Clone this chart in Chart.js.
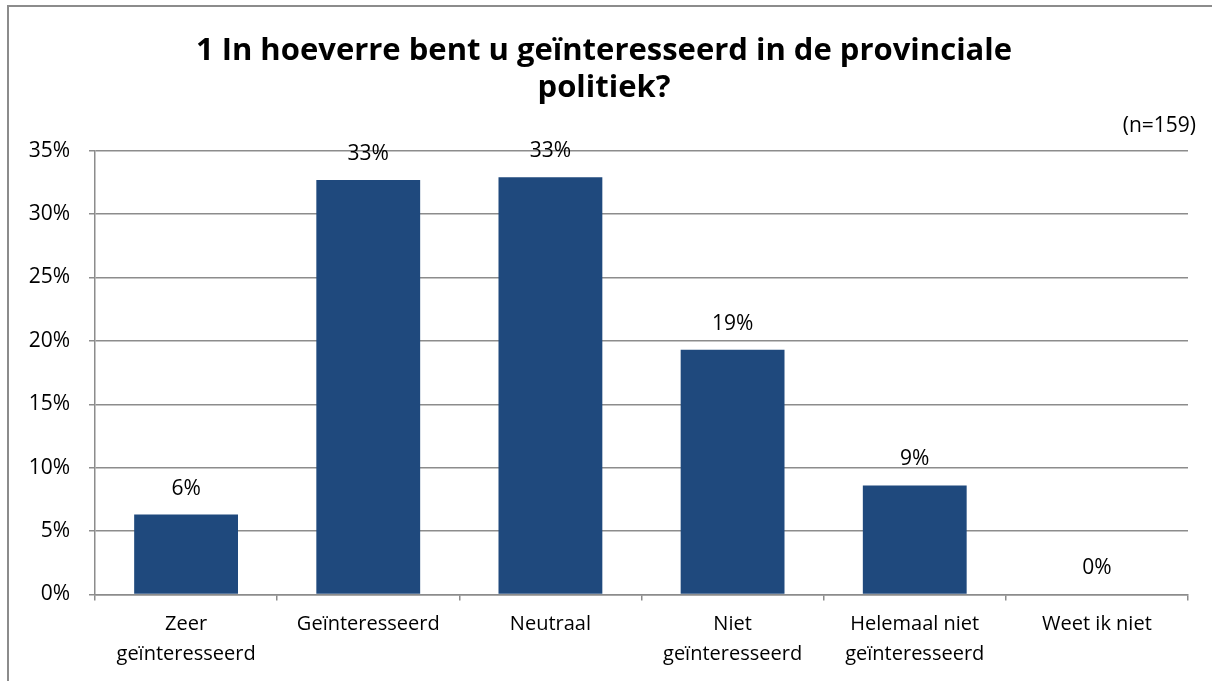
<!DOCTYPE html>
<html>
<head>
<meta charset="utf-8">
<script src="https://cdn.jsdelivr.net/npm/chart.js@4"></script>
<style>
  html, body { margin: 0; padding: 0; background: #fff; }
  #wrap { position: relative; width: 1212px; height: 681px; }
</style>
</head>
<body>
<div id="wrap"><canvas id="chart" width="1212" height="681"></canvas></div>
<script>
// Interesse in provinciale politiek — Chart.js bar chart
const categories = [
    ['Zeer', 'geïnteresseerd'],
    'Geïnteresseerd',
    'Neutraal',
    ['Niet', 'geïnteresseerd'],
    ['Helemaal niet', 'geïnteresseerd'],
    'Weet ik niet'
];

// share of respondents in %
const shares = [6.3, 32.7, 32.9, 19.3, 8.6, 0];

const yTicks = [0, 5, 10, 15, 20, 25, 30, 35];
const sampleNote = '(n=159)';

const FONT = '"Open Sans", Lato, sans-serif';

// grey frame round the chart + sample size note
const framePlugin = {
    id: 'frame',
    beforeDraw: function (chart) {
        const c = chart.ctx;
        c.save();
        c.strokeStyle = '#8c8c8c';
        c.lineWidth = 2;
        c.strokeRect(8, 6, 1400, 1000);
        c.restore();
    },
    afterDraw: function (chart) {
        const c = chart.ctx;
        c.save();
        c.font = '21px ' + FONT;
        c.fillStyle = '#000';
        c.textAlign = 'right';
        c.textBaseline = 'middle';
        c.fillText(sampleNote, 1196, 126);
        c.restore();
    }
};

// value labels above the bars
const valueLabels = {
    id: 'valueLabels',
    afterDatasetsDraw: function (chart) {
        const c = chart.ctx;
        const meta = chart.getDatasetMeta(0);
        c.save();
        c.font = '21px ' + FONT;
        c.fillStyle = '#000';
        c.textAlign = 'center';
        c.textBaseline = 'middle';
        meta.data.forEach(function (bar, i) {
            c.fillText(Math.round(shares[i]) + '%', bar.x, bar.y - 26);
        });
        c.restore();
    }
};

new Chart(document.getElementById('chart').getContext('2d'), {
    type: 'bar',
    data: {
        labels: categories,
        datasets: [{
            data: shares,
            backgroundColor: '#1f497d',
            borderWidth: 0,
            categoryPercentage: 1,
            barPercentage: 0.57
        }]
    },
    options: {
        responsive: false,
        animation: false,
        layout: { padding: { left: 20, right: 24, top: 0, bottom: 0 } },
        plugins: {
            legend: { display: false },
            tooltip: { enabled: false },
            title: {
                display: true,
                text: ['1 In hoeverre bent u geïnteresseerd in de provinciale', 'politiek?'],
                color: '#000',
                font: { family: FONT, size: 31, weight: 'bold', lineHeight: 1.21 },
                padding: { top: 32, bottom: 43.7 }
            }
        },
        scales: {
            x: {
                grid: {
                    drawOnChartArea: false,
                    drawTicks: true,
                    tickLength: 6,
                    color: '#8c8c8c',
                    lineWidth: 1.5
                },
                border: { color: '#8c8c8c', width: 1.5 },
                ticks: {
                    color: '#000',
                    font: { family: FONT, size: 20, lineHeight: 1.5 },
                    padding: 9,
                    maxRotation: 0,
                    autoSkip: false
                },
                afterFit: function (scale) { scale.height = 86.6; }
            },
            y: {
                min: 0,
                max: 35,
                afterBuildTicks: function (scale) {
                    scale.ticks = yTicks.map(function (v) { return { value: v }; });
                },
                grid: {
                    color: '#8c8c8c',
                    lineWidth: 1.5,
                    tickLength: 6
                },
                border: { color: '#8c8c8c', width: 1.5 },
                ticks: {
                    color: '#000',
                    font: { family: FONT, size: 21 },
                    padding: 19,
                    callback: function (value) { return value + '%'; }
                },
                afterFit: function (scale) { scale.width = 75; }
            }
        }
    },
    plugins: [framePlugin, valueLabels]
});
</script>
</body>
</html>
